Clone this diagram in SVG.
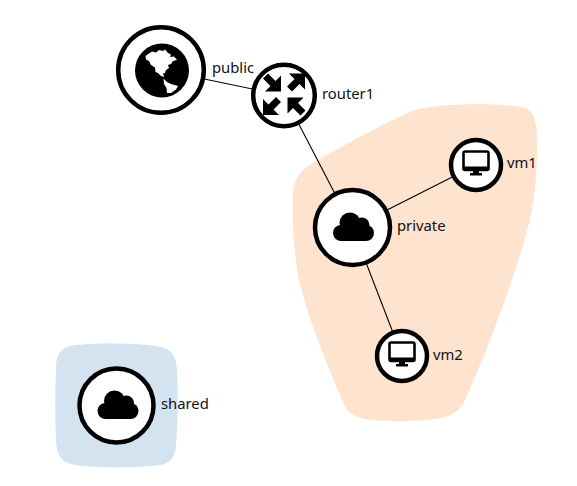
<svg xmlns="http://www.w3.org/2000/svg" width="577" height="486" viewBox="0 0 577 486">
<style>
text{font-family:"Noto Sans","Open Sans","Liberation Sans",sans-serif;font-size:14.800px;fill:#111}
.ring{fill:#fff;stroke:#000;stroke-width:4.5}
.link{stroke:#000;stroke-width:1.1;fill:none}
</style>
<defs>
<g id="cloud"><circle cx="-12" cy="6" r="8"/><circle cx="-3" cy="-4" r="10.500"/><circle cx="9" cy="-2" r="7.500"/><circle cx="13" cy="6" r="8"/><rect x="-12" y="-1" width="25" height="15"/></g>
<g id="monitor"><rect x="-12.500" y="-11.500" width="25" height="18.500" rx="1.500" fill="#fff" stroke="#000" stroke-width="2.600"/><rect x="-12.500" y="3.500" width="25" height="4" fill="#000"/><rect x="-3" y="7" width="6" height="3.500"/><rect x="-6" y="10" width="12" height="2.500"/></g>
<path id="arrow" d="M0 0L-16 0L-10.500-5.500L-18-13L-13-18L-5.500-10.500L0-16Z"/>
</defs>
<g id="regions">
<path d="M293 196C293 180 300 170 316 161C350 142 390 120 415 110C440 103 500 103 522 107C533 110 536 118 537 135C538 165 535 205 526 235C513 280 490 345 464 402C458 415 445 421 400 421C360 421 350 418 343 402C325 360 305 310 298 275C294 250 292 220 293 196Z" fill="#fee3cf"/>
<path d="M56 370C56 352 62 346 78 345C100 343 135 343 155 346C171 348 176 354 177 370C178 390 178 425 176 445C175 460 168 465 152 466C130 468 95 468 75 465C62 463 57 456 56 442C55 420 55 392 56 370Z" fill="#d3e3f0"/>
</g>
<g id="connectors">
<line class="link" x1="161" y1="70" x2="284" y2="95.500"/>
<line class="link" x1="284" y1="95.500" x2="352.500" y2="227.500"/>
<line class="link" x1="352.500" y1="227.500" x2="476" y2="165"/>
<line class="link" x1="352.500" y1="227.500" x2="402" y2="356"/>
</g>
<g id="public">
<circle class="ring" cx="161" cy="70" r="42.800"/>
<circle cx="162" cy="70.500" r="27"/>
<path d="M145.500 56L149 53.500L152 51.500L156 52.500L159 50L163 51L165 49.500L168 53L171 54.500L170 57L174 56.500L177 60L173 61L171 64L168 65L169 68L166 70L165 73L163 73.500L164 77L161 76L158 73L155.500 72L155 67.500L151 65L149 61L146 59.500Z" fill="#fff"/>
<path d="M163.500 78.500L167 82L171 84L178 86L176 89.500L171 93L167 93L166.500 88L164 84Z" fill="#fff"/>
<text x="212" y="73">public</text>
</g>
<g id="router1">
<circle class="ring" cx="284" cy="95.500" r="30.800"/>
<use href="#arrow" transform="translate(281 91.500)"/>
<use href="#arrow" transform="translate(305 73.500) rotate(-90)"/>
<use href="#arrow" transform="translate(263 115) rotate(90)"/>
<use href="#arrow" transform="translate(287.500 97.500) rotate(180)"/>
<text x="322" y="99">router1</text>
</g>
<g id="private">
<circle class="ring" cx="352.500" cy="227.500" r="37.500"/>
<use href="#cloud" transform="translate(353 227)"/>
<text x="397" y="231">private</text>
</g>
<g id="vm1">
<circle class="ring" cx="476" cy="165" r="25"/>
<use href="#monitor" transform="translate(476 163)"/>
<text x="507" y="168">vm1</text>
</g>
<g id="vm2">
<circle class="ring" cx="402" cy="356" r="25"/>
<use href="#monitor" transform="translate(402 354)"/>
<text x="433" y="360">vm2</text>
</g>
<g id="shared">
<circle class="ring" cx="116.500" cy="405.500" r="37"/>
<use href="#cloud" transform="translate(117.500 405)"/>
<text x="161" y="409">shared</text>
</g>
</svg>
